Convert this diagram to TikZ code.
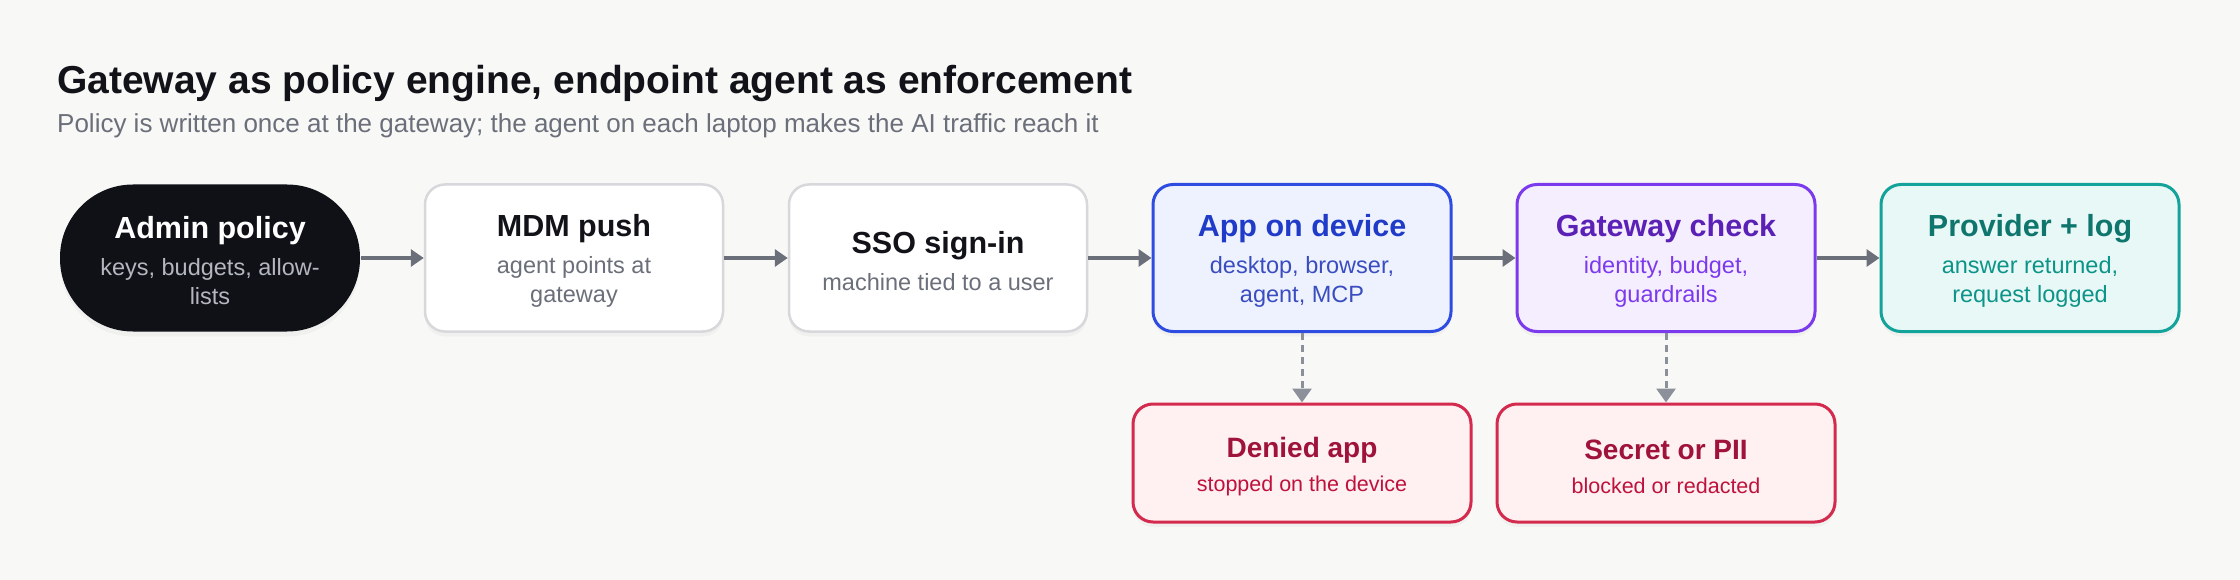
\documentclass[tikz,border=0pt]{standalone}
\usepackage{fontspec}
\setmainfont{Liberation Sans}
\usetikzlibrary{arrows.meta,shadows}
\definecolor{BgClr}{rgb}{0.973,0.973,0.965}
\definecolor{InkClr}{rgb}{0.067,0.075,0.094}
\definecolor{MutedClr}{rgb}{0.420,0.435,0.478}
\definecolor{AdminClr}{rgb}{0.059,0.067,0.090}
\definecolor{AdminSubClr}{rgb}{0.706,0.718,0.749}
\definecolor{CardLineClr}{rgb}{0.847,0.847,0.863}
\definecolor{DashClr}{rgb}{0.549,0.565,0.604}
\definecolor{AppFillClr}{rgb}{0.933,0.949,1}
\definecolor{AppLineClr}{rgb}{0.184,0.298,0.878}
\definecolor{AppTextClr}{rgb}{0.122,0.231,0.784}
\definecolor{AppSubClr}{rgb}{0.227,0.302,0.753}
\definecolor{GateFillClr}{rgb}{0.961,0.933,1}
\definecolor{GateLineClr}{rgb}{0.486,0.227,0.929}
\definecolor{GateTextClr}{rgb}{0.357,0.129,0.714}
\definecolor{ProvFillClr}{rgb}{0.910,0.973,0.965}
\definecolor{ProvLineClr}{rgb}{0.078,0.639,0.604}
\definecolor{ProvTextClr}{rgb}{0.059,0.463,0.431}
\definecolor{ProvSubClr}{rgb}{0.051,0.580,0.533}
\definecolor{StopFillClr}{rgb}{1,0.941,0.949}
\definecolor{StopLineClr}{rgb}{0.831,0.165,0.306}
\definecolor{StopTextClr}{rgb}{0.624,0.071,0.224}
\definecolor{StopSubClr}{rgb}{0.745,0.071,0.235}
\newcommand{\TitleFont}{\bfseries\fontsize{39}{46}\selectfont}
\newcommand{\LeadFont}{\fontsize{26}{31}\selectfont}
\newcommand{\BoxHead}{\bfseries\fontsize{30.5}{36}\selectfont\rule{0pt}{28pt}}
\newcommand{\BoxSub}{\fontsize{23.5}{29}\selectfont}
\newcommand{\StopHead}{\bfseries\fontsize{28}{34}\selectfont\rule{0pt}{27pt}}
\newcommand{\StopSub}{\fontsize{21.5}{27}\selectfont}

\begin{document}
\begin{tikzpicture}[x=1pt,y=-1pt,
  card/.style={rectangle,rounded corners=20pt,minimum width=298pt,minimum height=147pt,
    line width=2.5pt,align=center,inner sep=0pt,font=\BoxSub,
    drop shadow={shadow xshift=0pt,shadow yshift=-5pt,opacity=0.06}},
  stopcard/.style={card,minimum width=338pt,minimum height=118pt,line width=3pt,
    font=\StopSub,fill=StopFillClr,draw=StopLineClr,text=StopSubClr},
  flow/.style={line width=3.5pt,MutedClr,-{Triangle[length=13pt,width=17pt]}},
  veto/.style={line width=3pt,DashClr,dash pattern=on 7pt off 5pt,
    -{Triangle[length=14pt,width=19pt]}}]
\path[fill=BgClr,use as bounding box] (0,0) rectangle (2240,580);

\node[anchor=base west,inner sep=0pt,text=InkClr,font=\TitleFont] (Head) at (57,94)
  {Gateway as policy engine, endpoint agent as enforcement};
\node[anchor=base west,inner sep=0pt,text=MutedClr,font=\LeadFont] (Lead) at (57,133)
  {Policy is written once at the gateway; the agent on each laptop makes the AI traffic reach it};

\node[card,rounded corners=73pt,minimum width=300pt,fill=AdminClr,text=AdminSubClr] (Adm) at (210,258)
  {\textcolor{white}{\BoxHead Admin policy}\\[8pt]keys, budgets, allow-\\lists};
\node[card,fill=white,draw=CardLineClr,text=MutedClr] (MDM) at (574,258)
  {\textcolor{InkClr}{\BoxHead MDM push}\\[8pt]agent points at\\gateway};
\node[card,fill=white,draw=CardLineClr,text=MutedClr] (SSO) at (938,258)
  {\textcolor{InkClr}{\BoxHead SSO sign-in}\\[8pt]machine tied to a user};
\node[card,line width=3pt,fill=AppFillClr,draw=AppLineClr,text=AppSubClr] (App) at (1302,258)
  {\textcolor{AppTextClr}{\BoxHead App on device}\\[8pt]desktop, browser,\\agent, MCP};
\node[card,line width=3pt,fill=GateFillClr,draw=GateLineClr,text=GateLineClr] (Gw) at (1666,258)
  {\textcolor{GateTextClr}{\BoxHead Gateway check}\\[8pt]identity, budget,\\guardrails};
\node[card,line width=3pt,fill=ProvFillClr,draw=ProvLineClr,text=ProvSubClr] (Prov) at (2030,258)
  {\textcolor{ProvTextClr}{\BoxHead Provider + log}\\[8pt]answer returned,\\request logged};

\node[stopcard] (Den) at (1302,463)
  {\textcolor{StopTextClr}{\StopHead Denied app}\\[7pt]stopped on the device};
\node[stopcard] (Sec) at (1666,463)
  {\textcolor{StopTextClr}{\StopHead Secret or PII}\\[7pt]blocked or redacted};

\draw[flow] (Adm) -- (MDM);
\draw[flow] (MDM) -- (SSO);
\draw[flow] (SSO) -- (App);
\draw[flow] (App) -- (Gw);
\draw[flow] (Gw) -- (Prov);
\draw[veto] (App) -- (Den);
\draw[veto] (Gw) -- (Sec);
\end{tikzpicture}
\end{document}
